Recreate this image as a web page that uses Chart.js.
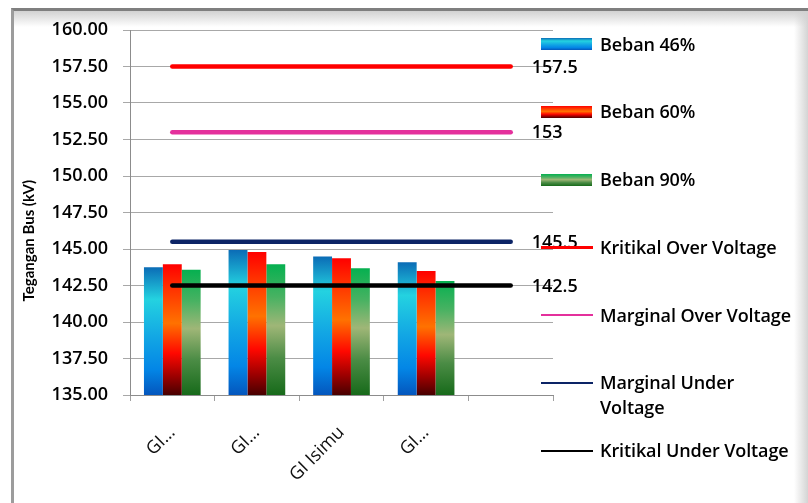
<!DOCTYPE html>
<html>
<head>
<meta charset="utf-8">
<script src="https://cdn.jsdelivr.net/npm/chart.js@4.4.1/dist/chart.umd.min.js"></script>
<style>
  html, body { margin: 0; padding: 0; background: #fff; }
  #wrap { position: relative; width: 808px; height: 503px; overflow: hidden; background: #fff; }
  #frame {
    position: absolute; left: 11px; top: 8px; right: 0; bottom: 0;
    border-left: 3px solid #9c9c9c; border-top: 3px solid #7f7f7f;
    background:
      linear-gradient(to bottom, #d2d2d2 0px, rgba(255,255,255,0) 16px),
      linear-gradient(to left, #d4d4d4 0px, rgba(255,255,255,0) 14px),
      #fff;
  }
  #chartBox { position: absolute; left: 0; top: 0; width: 808px; height: 503px; }
  #legend {
    position: absolute; left: 541px; top: 31.5px;
    font-family: "Open Sans", sans-serif; font-weight: 600; font-size: 18px; color: #000;
  }
  .item { display: flex; align-items: flex-start; height: 67.8px; }
  .swBox { width: 52px; height: 25px; display: flex; align-items: center; margin-right: 7px; flex: none; }
  .tx { line-height: 25px; width: 200px; white-space: normal; letter-spacing: -0.1px; }
</style>
</head>
<body>
<div id="wrap">
  <div id="frame"></div>
  <div id="chartBox"><canvas id="c"></canvas></div>
  <div id="legend"></div>
</div>
<script>
// Substations on the x axis (the fifth slot is left empty)
const categories = ['GI…', 'GI…', 'GI Isimu', 'GI…', ''];

// Bus voltage (kV) per loading level
const beban46 = [143.75, 144.93, 144.48, 144.1, null];
const beban60 = [143.95, 144.8, 144.36, 143.5, null];
const beban90 = [143.58, 143.95, 143.68, 142.8, null];

// Voltage limits (kV)
const kritikalOver  = [157.5, 157.5, 157.5, 157.5, 157.5];
const marginalOver  = [153, 153, 153, 153, 153];
const marginalUnder = [145.5, 145.5, 145.5, 145.5, 145.5];
const kritikalUnder = [142.5, 142.5, 142.5, 142.5, 142.5];

// Y axis range
const yMin = 135, yMax = 160, yStep = 2.5;

const FONT = '"Open Sans", sans-serif';

// Vertical gradient stops for each bar series (top -> bottom)
const blueStops  = [[0, '#0b6cb6'], [0.25, '#24d2e0'], [0.55, '#12a6e4'], [0.8, '#0386e6'], [1, '#0456bd']];
const redStops   = [[0, '#ff0000'], [0.18, '#ff3000'], [0.45, '#ff7200'], [0.68, '#ff0800'], [0.85, '#a00000'], [1, '#480000']];
const greenStops = [[0, '#06b050'], [0.25, '#48b262'], [0.47, '#9fb677'], [0.72, '#4b8c45'], [1, '#176a1a']];

function barFill(stops) {
  return (ctx) => {
    const chart = ctx.chart;
    if (!chart.chartArea || ctx.type !== 'data' || ctx.raw == null) return stops[1][1];
    const y = chart.scales.y;
    const top = y.getPixelForValue(ctx.raw);
    const bottom = y.getPixelForValue(y.min);
    const g = chart.ctx.createLinearGradient(0, top, 0, bottom);
    stops.forEach(([o, c]) => g.addColorStop(o, c));
    return g;
  };
}

function barSet(label, data, stops) {
  return {
    type: 'bar', label, data, stops,
    backgroundColor: barFill(stops),
    borderWidth: 0,
    categoryPercentage: 0.67, barPercentage: 1.0,
    order: 2
  };
}

function lineSet(label, data, color) {
  return {
    type: 'line', label, data,
    borderColor: color, backgroundColor: color,
    borderWidth: 4.5, borderCapStyle: 'round',
    pointRadius: 0, pointHoverRadius: 0, fill: false,
    order: 1
  };
}

// Writes each limit's value to the right of its line end
const lineValueLabels = {
  id: 'lineValueLabels',
  afterDatasetsDraw(chart) {
    const ctx = chart.ctx;
    ctx.save();
    ctx.font = '600 18px ' + FONT;
    ctx.fillStyle = '#000';
    ctx.textAlign = 'left';
    ctx.textBaseline = 'middle';
    chart.data.datasets.forEach((ds, i) => {
      if (ds.type !== 'line') return;
      const pts = chart.getDatasetMeta(i).data;
      const last = pts[pts.length - 1];
      ctx.fillText(String(ds.data[ds.data.length - 1]), last.x + 21, last.y + 1);
    });
    ctx.restore();
  }
};

// Rotated y axis title
const yTitle = {
  id: 'yTitle',
  afterDraw(chart) {
    const { ctx, chartArea } = chart;
    ctx.save();
    ctx.translate(chartArea.left - 101, chartArea.top + (chartArea.bottom - chartArea.top) * 0.577);
    ctx.rotate(-Math.PI / 2);
    ctx.font = 'bold 15px Lato, sans-serif';
    ctx.fillStyle = '#000';
    ctx.textAlign = 'center';
    ctx.textBaseline = 'middle';
    ctx.fillText('Tegangan Bus (kV)', 0, 0);
    ctx.restore();
  }
};

const chart = new Chart(document.getElementById('c'), {
  data: {
    labels: categories,
    datasets: [
      barSet('Beban 46%', beban46, blueStops),
      barSet('Beban 60%', beban60, redStops),
      barSet('Beban 90%', beban90, greenStops),
      lineSet('Kritikal Over Voltage', kritikalOver, '#ff0000'),
      lineSet('Marginal Over Voltage', marginalOver, '#e4309c'),
      lineSet('Marginal Under Voltage', marginalUnder, '#0c2466'),
      lineSet('Kritikal Under Voltage', kritikalUnder, '#000000')
    ]
  },
  options: {
    responsive: true,
    maintainAspectRatio: false,
    devicePixelRatio: 1,
    animation: false,
    layout: { padding: { top: 30, right: 255, left: 0, bottom: 0 } },
    plugins: { legend: { display: false }, tooltip: { enabled: false } },
    scales: {
      x: {
        offset: true,
        grid: { display: true, offset: true, drawOnChartArea: false, drawTicks: true, tickLength: 6, color: '#a0a0a0' },
        border: { display: true, color: '#8c8c8c', width: 1 },
        ticks: {
          autoSkip: false, minRotation: 45, maxRotation: 45, padding: 21,
          color: '#111', font: { family: FONT, size: 18 }
        },
        afterFit(s) { s.height = 108; }
      },
      y: {
        min: yMin, max: yMax,
        grid: { color: '#a8a8a8', lineWidth: 1, drawTicks: true, tickLength: 7 },
        border: { display: true, color: '#8c8c8c', width: 1 },
        ticks: {
          stepSize: yStep, padding: 15, color: '#000',
          font: { family: FONT, size: 18, weight: '600' },
          callback: (v) => Number(v).toFixed(2)
        },
        afterFit(s) { s.width = 130; }
      }
    }
  },
  plugins: [lineValueLabels, yTitle]
});

// Legend built from the chart's datasets
function buildLegend() {
  const box = document.getElementById('legend');
  chart.data.datasets.forEach((ds) => {
    const item = document.createElement('div');
    item.className = 'item';
    const swBox = document.createElement('div');
    swBox.className = 'swBox';
    const sw = document.createElement('div');
    if (ds.type === 'bar') {
      sw.style.width = '51px';
      sw.style.height = '12px';
      sw.style.background = 'linear-gradient(to bottom,' +
        ds.stops.map(([o, c]) => c + ' ' + Math.round(o * 100) + '%').join(',') + ')';
    } else {
      sw.style.width = '52px';
      sw.style.height = '2.5px';
      sw.style.background = ds.borderColor;
    }
    swBox.appendChild(sw);
    const tx = document.createElement('div');
    tx.className = 'tx';
    tx.textContent = ds.label;
    item.appendChild(swBox);
    item.appendChild(tx);
    box.appendChild(item);
  });
}
buildLegend();
</script>
</body>
</html>
